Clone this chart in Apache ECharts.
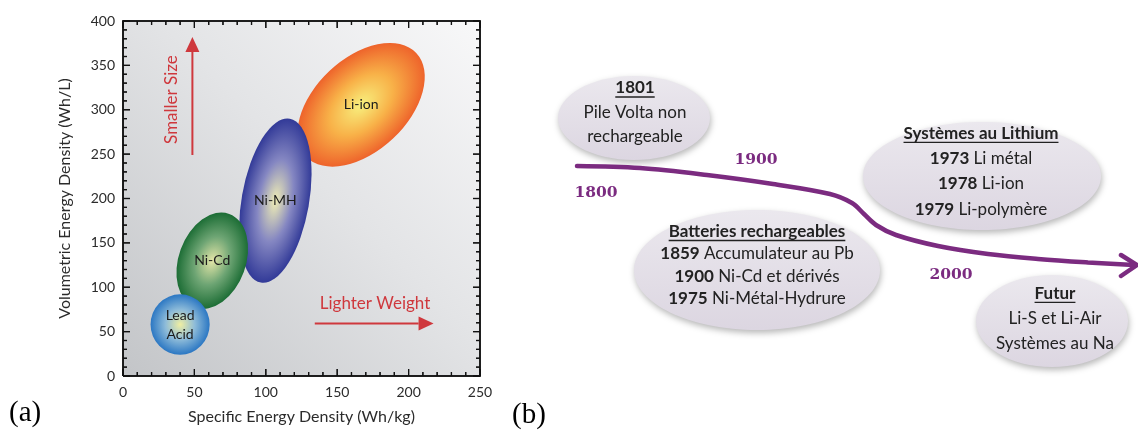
<!DOCTYPE html>
<html>
<head>
<meta charset="utf-8">
<script src="https://cdn.jsdelivr.net/npm/echarts@6/dist/echarts.min.js"></script>
<style>
  html, body { margin: 0; padding: 0; background: #fff; }
  #chart { width: 1138px; height: 438px; }
</style>
</head>
<body>
<div id="chart"></div>
<script>
// ---- (a) energy density of battery chemistries ----
var chemistries = ['Lead\nAcid', 'Ni-Cd', 'Ni-MH', 'Li-ion'];
var specificEnergy = [40, 62.5, 106.7, 166.8];       // Wh/kg, centre of each region
var volumetricEnergy = [58, 130, 197.6, 305.6];      // Wh/L, centre of each region
var specificHalfSpread = [20.7, 23.5, 23.6, 32.5];   // Wh/kg, half width of region
var volumetricHalfSpread = [34, 56, 93.8, 85.2];     // Wh/L, half height of region
var xTicks = [0, 50, 100, 150, 200, 250];
var yTicks = [0, 50, 100, 150, 200, 250, 300, 350, 400];

// ---- (b) timeline ----
var eraLabels = ['1800', '1900', '2000'];
var boxTitles = ['1801', 'Batteries rechargeables', 'Systèmes au Lithium', 'Futur'];
var boxEntries = [
  [['', 'Pile Volta non'], ['', 'rechargeable']],
  [['1859', 'Accumulateur au Pb'], ['1900', 'Ni-Cd et dérivés'], ['1975', 'Ni-Métal-Hydrure']],
  [['1973', 'Li métal'], ['1978', 'Li-ion'], ['1979', 'Li-polymère']],
  [['', 'Li-S et Li-Air'], ['', 'Systèmes au Na']]
];

// styles / layout
var tiltDeg = [0, 20, 10, 46.7];
var blobStops = [
  ['#f0efa2', '#8dbbd9', '#2b77c3'],
  ['#e4e6a8', '#6ea574', '#1c6d35'],
  ['#f0eeb4', '#8587c2', '#323a98'],
  ['#f8f07e', '#f8b148', '#ee632b']
];
var red = '#cf383d';
var purple = '#7b2b80';
var sans = 'Lato, "Open Sans", sans-serif';
var ink = '#111';

// panel (b) drawn on a hidden grid whose units match the page
var boxLayout = [
  { cx: 634, cy: 118, rx: 76, ry: 42, tx: 635, top: 88, gap: 24.5 },
  { cx: 757, cy: 270, rx: 123, ry: 60, tx: 757, top: 231.5, gap: 22.3 },
  { cx: 982, cy: 176, rx: 119, ry: 54, tx: 981, top: 133.3, gap: 25.3 },
  { cx: 1052, cy: 321, rx: 76, ry: 46, tx: 1055, top: 293.3, gap: 25 }
];
var eraPos = [[596, 193], [756, 160], [951, 275]];
var curvePath = [[577, 166], [640, 168], [707, 175], [773, 184], [830, 194], [852, 203],
  [864, 214], [876, 225], [896, 235], [938, 246], [988, 254], [1038, 259], [1088, 262.5], [1134, 265]];

var measureCtx = document.createElement('canvas').getContext('2d');
function textWidth(str, font) {
  measureCtx.font = font;
  return measureCtx.measureText(str).width;
}

var blobData = chemistries.map(function (n, i) {
  return [specificEnergy[i], volumetricEnergy[i], specificHalfSpread[i], volumetricHalfSpread[i]];
});

// box frame with inside ticks on all four sides (major + 5 minor steps)
function frameParts(api) {
  var x0 = xTicks[0], x1 = xTicks[xTicks.length - 1];
  var y0 = yTicks[0], y1 = yTicks[yTicks.length - 1];
  var xStep = (xTicks[1] - xTicks[0]) / 5, yStep = (yTicks[1] - yTicks[0]) / 5;
  var bl = api.coord([x0, y0]), tr = api.coord([x1, y1]);
  var kids = [{
    type: 'polyline', z2: 5,
    shape: { points: [[bl[0], bl[1]], [bl[0], tr[1]], [tr[0], tr[1]], [tr[0], bl[1]], [bl[0], bl[1]]] },
    style: { stroke: ink, lineWidth: 1.5, fill: 'none' }
  }];
  var k, v, p, len;
  for (k = 0; x0 + k * xStep <= x1 + 1e-9; k++) {
    v = x0 + k * xStep;
    p = api.coord([v, y0])[0];
    len = k % 5 === 0 ? 7 : 4;
    kids.push({ type: 'line', z2: 5, shape: { x1: p, y1: bl[1], x2: p, y2: bl[1] - len }, style: { stroke: ink, lineWidth: 1.2 } });
    kids.push({ type: 'line', z2: 5, shape: { x1: p, y1: tr[1], x2: p, y2: tr[1] + len }, style: { stroke: ink, lineWidth: 1.2 } });
  }
  for (k = 0; y0 + k * yStep <= y1 + 1e-9; k++) {
    v = y0 + k * yStep;
    p = api.coord([x0, v])[1];
    len = k % 5 === 0 ? 7 : 4;
    kids.push({ type: 'line', z2: 5, shape: { x1: bl[0], y1: p, x2: bl[0] + len, y2: p }, style: { stroke: ink, lineWidth: 1.2 } });
    kids.push({ type: 'line', z2: 5, shape: { x1: tr[0], y1: p, x2: tr[0] - len, y2: p }, style: { stroke: ink, lineWidth: 1.2 } });
  }
  return kids;
}

function plotBackground(params, api) {
  var cs = params.coordSys;
  var kids = [{
    type: 'rect', z2: 0,
    shape: { x: cs.x, y: cs.y, width: cs.width, height: cs.height },
    style: {
      fill: new echarts.graphic.LinearGradient(0, 1, 1, 0, [
        { offset: 0, color: '#c3c5c8' },
        { offset: 0.55, color: '#e3e4e6' },
        { offset: 1, color: '#f8f8f9' }
      ])
    }
  }];
  return { type: 'group', children: kids.concat(frameParts(api)) };
}

// same frame again on its own canvas layer, on top of everything
function frameItem(params, api) {
  return { type: 'group', children: frameParts(api) };
}

function blobItem(params, api) {
  var i = params.dataIndex;
  var c = api.coord([api.value(0), api.value(1)]);
  var s = api.size([api.value(2), api.value(3)]);
  var r = 50;
  var st = blobStops[i];
  return {
    type: 'group',
    children: [{
      type: 'circle',
      x: c[0], y: c[1],
      scaleX: s[0] / r, scaleY: s[1] / r,
      rotation: -tiltDeg[i] * Math.PI / 180,
      shape: { cx: 0, cy: 0, r: r },
      z2: 10 - i,
      style: {
        fill: new echarts.graphic.RadialGradient(0.5, 0.5, 0.5, [
          { offset: 0, color: st[0] },
          { offset: 0.5, color: st[1] },
          { offset: 1, color: st[2] }
        ])
      }
    }, {
      type: 'text',
      x: c[0], y: c[1],
      z2: 20,
      style: {
        text: chemistries[i], align: 'center', verticalAlign: 'middle',
        fontFamily: sans, fontSize: 14, lineHeight: 19, fill: '#1b1b1b'
      }
    }]
  };
}

// arrows and captions in data units of panel (a)
var notes = [
  { from: [48.6, 249], to: [48.6, 382], text: 'Smaller Size', at: [33.9, 311.5], rot: 90 },
  { from: [134.3, 59.2], to: [217.5, 59.2], text: 'Lighter Weight', at: [176.5, 81.5], rot: 0 }
];
function noteItem(params, api) {
  var n = notes[params.dataIndex];
  var a = api.coord(n.from), b = api.coord(n.to), t = api.coord(n.at);
  var dx = b[0] - a[0], dy = b[1] - a[1], len = Math.sqrt(dx * dx + dy * dy);
  var ux = dx / len, uy = dy / len, hl = 15, hw = 7;
  var base = [b[0] - ux * hl, b[1] - uy * hl];
  return {
    type: 'group',
    children: [{
      type: 'line',
      shape: { x1: a[0], y1: a[1], x2: base[0], y2: base[1] },
      style: { stroke: red, lineWidth: 2 }
    }, {
      type: 'polygon',
      shape: { points: [b, [base[0] - uy * hw, base[1] + ux * hw], [base[0] + uy * hw, base[1] - ux * hw]] },
      style: { fill: red }
    }, {
      type: 'text',
      x: t[0], y: t[1],
      rotation: n.rot * Math.PI / 180,
      style: {
        text: n.text, align: 'center', verticalAlign: 'middle',
        fontFamily: sans, fontSize: 17, fill: red
      }
    }]
  };
}

function boxItem(params, api) {
  var i = params.dataIndex;
  var L = boxLayout[i];
  var c = api.coord([L.cx, L.cy]);
  var s = api.size([L.rx, L.ry]);
  var children = [{
    type: 'ellipse',
    shape: { cx: c[0], cy: c[1], rx: s[0], ry: s[1] },
    style: {
      fill: new echarts.graphic.LinearGradient(0, 0, 0, 1, [
        { offset: 0, color: '#ebe8ee' },
        { offset: 1, color: '#dcd6e1' }
      ]),
      shadowBlur: 6, shadowColor: 'rgba(0,0,0,0.28)', shadowOffsetX: 1, shadowOffsetY: 3
    }
  }];
  var p = api.coord([L.tx, L.top]);
  var tx = p[0], y = p[1];
  var w = textWidth(boxTitles[i], 'bold 17px ' + sans);
  children.push({
    type: 'text', x: tx, y: y,
    style: { text: boxTitles[i], align: 'center', verticalAlign: 'middle',
      fontFamily: sans, fontSize: 17, fontWeight: 'bold', fill: '#222' }
  });
  children.push({
    type: 'line',
    shape: { x1: tx - w / 2, y1: y + 9, x2: tx + w / 2, y2: y + 9 },
    style: { stroke: '#222', lineWidth: 1.3 }
  });
  boxEntries[i].forEach(function (e, k) {
    var ly = y + L.gap * (k + 1);
    var txt = e[0] ? '{b|' + e[0] + '} ' + e[1] : e[1];
    children.push({
      type: 'text', x: tx, y: ly,
      style: {
        text: txt, align: 'center', verticalAlign: 'middle',
        fontFamily: sans, fontSize: 17, fill: '#222',
        rich: { b: { fontFamily: sans, fontSize: 17, fontWeight: 'bold', fill: '#222' } }
      }
    });
  });
  return { type: 'group', children: children };
}

function eraItem(params, api) {
  var i = params.dataIndex;
  var p = api.coord(eraPos[i]);
  return {
    type: 'text', x: p[0], y: p[1],
    style: { text: eraLabels[i], align: 'center', verticalAlign: 'middle',
      fontFamily: '"DejaVu Serif", serif', fontSize: 15.5, fontWeight: 'bold', fill: purple }
  };
}

function arrowHeadItem(params, api) {
  var tip = api.coord([1137, 265]);
  var up = api.coord([1121, 255]);
  var dn = api.coord([1121, 276]);
  return {
    type: 'polyline',
    shape: { points: [up, tip, dn] },
    style: { stroke: purple, lineWidth: 4.5, fill: 'none', lineCap: 'round', lineJoin: 'round' }
  };
}

function labelAxis(pos, ticks, extra) {
  var a = {
    gridIndex: 0, type: 'value', position: pos,
    min: ticks[0], max: ticks[ticks.length - 1], interval: ticks[1] - ticks[0],
    axisLine: { show: false, onZero: false },
    axisTick: { show: false },
    splitLine: { show: false }
  };
  return Object.assign(a, extra);
}

var chart = echarts.init(document.getElementById('chart'));
chart.setOption({
  animation: false,
  title: [
    { text: '(a)', left: 9, top: 399, padding: 0,
      textStyle: { fontFamily: '"Liberation Serif", serif', fontSize: 29, fontWeight: 'normal', color: '#000' } },
    { text: '(b)', left: 512, top: 401, padding: 0,
      textStyle: { fontFamily: '"Liberation Serif", serif', fontSize: 29, fontWeight: 'normal', color: '#000' } }
  ],
  grid: [{
    left: 123, top: 21, width: 357, height: 355
  }, {
    left: 540, top: 0, width: 598, height: 438
  }],
  xAxis: [
    labelAxis('bottom', xTicks, {
      name: 'Specific Energy Density (Wh/kg)', nameLocation: 'middle', nameGap: 33,
      nameTextStyle: { fontFamily: sans, fontSize: 16, color: '#2b2b2b' },
      axisLabel: { show: true, margin: 9, fontFamily: sans, fontSize: 14, color: '#2b2b2b' }
    }),
    { gridIndex: 1, type: 'value', min: 540, max: 1138, show: false }
  ],
  yAxis: [
    labelAxis('left', yTicks, {
      name: 'Volumetric Energy Density (Wh/L)', nameLocation: 'middle', nameGap: 50,
      nameTextStyle: { fontFamily: sans, fontSize: 16, color: '#2b2b2b' },
      axisLabel: { show: true, margin: 8, fontFamily: sans, fontSize: 14, color: '#2b2b2b' }
    }),
    { gridIndex: 1, type: 'value', min: 0, max: 438, inverse: true, show: false }
  ],
  series: [{
    type: 'custom', xAxisIndex: 0, yAxisIndex: 0, z: 0,
    renderItem: plotBackground, data: [[0, 0]], clip: false
  }, {
    type: 'custom', xAxisIndex: 0, yAxisIndex: 0, z: 2,
    renderItem: blobItem, data: blobData, clip: false
  }, {
    type: 'custom', xAxisIndex: 0, yAxisIndex: 0, z: 3,
    renderItem: noteItem, data: notes.map(function (n) { return n.at; })
  }, {
    type: 'line', xAxisIndex: 1, yAxisIndex: 1,
    data: curvePath, smooth: 0.35, symbol: 'none',
    lineStyle: { color: purple, width: 4.5, cap: 'round' }, z: 3
  }, {
    type: 'custom', xAxisIndex: 1, yAxisIndex: 1,
    renderItem: arrowHeadItem, data: [[1137, 265]], z: 3
  }, {
    type: 'custom', xAxisIndex: 1, yAxisIndex: 1,
    renderItem: eraItem, data: eraPos, z: 3
  }, {
    type: 'custom', xAxisIndex: 1, yAxisIndex: 1,
    renderItem: boxItem, data: boxLayout.map(function (b) { return [b.cx, b.cy]; }), z: 2
  }, {
    type: 'custom', xAxisIndex: 0, yAxisIndex: 0, zlevel: 1, z: 1,
    renderItem: frameItem, data: [[0, 0]], clip: false
  }]
});
</script>
</body>
</html>
